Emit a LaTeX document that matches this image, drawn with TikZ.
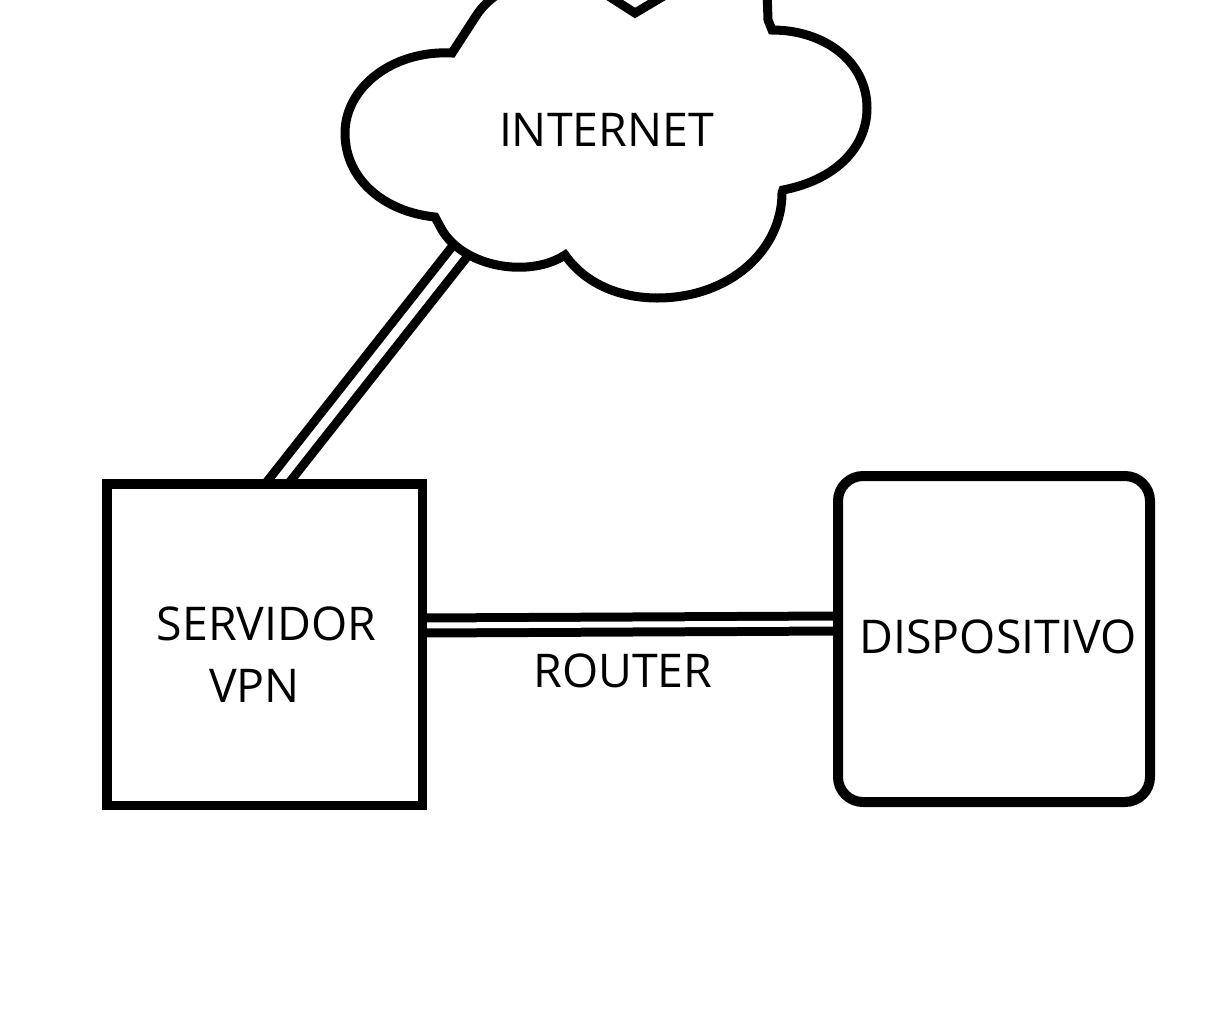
\documentclass[tikz,border=0pt]{standalone}
\usepackage{fontspec}
\setmainfont{Open Sans}
\usetikzlibrary{backgrounds}
\begin{document}
\begin{tikzpicture}[x=1pt,y=-1pt,
  linkA/.style={line width=9pt,double=white,double distance=9pt},
  linkB/.style={line width=9pt,double=white,double distance=6pt},
  sqbox/.style={draw,line width=9.5pt,inner sep=0pt,outer sep=0pt,minimum width=315.5pt,minimum height=321.5pt},
  rdbox/.style={draw,line width=10pt,rounded corners=25pt,inner sep=0pt,outer sep=0pt,minimum width=312pt,minimum height=326pt},
  lbl/.style={anchor=base,inner sep=0pt,font=\fontsize{46.5}{56}\selectfont},
  cloudline/.style={line width=9pt,line join=miter,fill=white}]
\useasboundingbox (0,0) rectangle (1210,1021);
\clip (0,0) rectangle (1210,1021);
% boxes
\node[sqbox] (srv) at (264.5,644.5) {};
\node[rdbox] (dev) at (994,639) {};
% connection points
\coordinate (srvTop) at (264,500);
\coordinate (inetA) at (472,236);
\coordinate (srvR) at (422,625.5);
\coordinate (devL) at (838.5,623.5);
\begin{pgfonlayer}{background}
\fill[white] (0,0) rectangle (1210,1021);
\begin{scope}
\clip (0,0) rectangle (1210,479);
\draw[linkA] (srvTop) -- (inetA);
\end{scope}
\draw[linkB] (srvR) -- (devL);
\end{pgfonlayer}
% cloud
\draw[cloudline] (452,53)
  .. controls (392,50) and (345,88) .. (345,133)
  .. controls (345,180) and (385,212) .. (435,217)
  -- (442,230)
  .. controls (465,268) and (530,278) .. (565,255)
  .. controls (590,290) and (630,298) .. (657,298)
  .. controls (730,298) and (782,250) .. (782,193)
  -- (783,190)
  .. controls (835,180) and (867,148) .. (867,108)
  .. controls (867,62) and (825,30) .. (772,30)
  -- (768,20) -- (767,-10)
  .. controls (765,-50) and (680,-50) .. (662,-3)
  -- (635,13) -- (610,-3)
  .. controls (590,-35) and (505,-30) .. (476,16)
  -- cycle;
% labels
\node[lbl] (inet) at (606.5,146) {INTERNET};
\node[lbl] (srvA) at (266.5,640) {SERVIDOR};
\node[lbl] (srvB) at (254.5,702) {VPN};
\node[lbl] (rtr) at (623,687) {ROUTER};
\node[lbl] (devT) at (998,653) {DISPOSITIVO};
\end{tikzpicture}
\end{document}
